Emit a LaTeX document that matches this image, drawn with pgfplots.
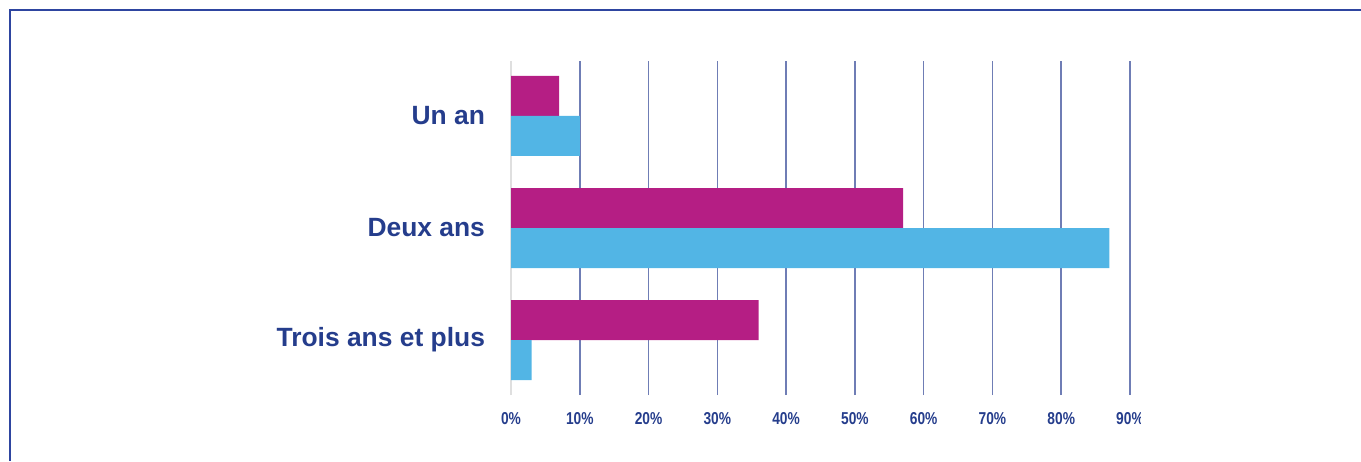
\documentclass[border=0pt]{standalone}
\usepackage{fontspec}
\setmainfont{Liberation Sans}
\newfontfamily\condfont[FakeStretch=0.8]{Liberation Sans}
\usepackage{pgfplots}
\pgfplotsset{compat=1.18}
\definecolor{mag}{HTML}{B51E84}
\definecolor{sky}{HTML}{52B5E5}
\definecolor{navy}{HTML}{253D8C}
\definecolor{frame}{HTML}{2E45A0}
\definecolor{gridc}{HTML}{6F7DB5}
\begin{document}
\begin{tikzpicture}
\useasboundingbox (0,0) rectangle (680.5pt,-230.5pt);
\draw[frame, line width=0.75pt] (5pt,-230.5pt) -- (5pt,-5pt) -- (680.5pt,-5pt);
\begin{axis}[
  at={(255.5pt,-197.5pt)}, anchor=south west,
  scale only axis, width=309.5pt, height=167pt,
  xbar, bar width=20pt,
  xmin=0, xmax=90, ymin=-0.49, ymax=2.49,
  axis line style={draw=none},
  xtick={10,20,30,40,50,60,70,80,90},
  xticklabels={10\%,20\%,30\%,40\%,50\%,60\%,70\%,80\%,90\%},
  extra x ticks={0}, extra x tick labels={0\%},
  extra x tick style={major grid style={gray!25, line width=0.75pt}},
  xmajorgrids, major grid style={gridc, line width=0.75pt},
  major tick length=0pt,
  xticklabel style={font=\condfont\bfseries\fontsize{8.6}{10}\selectfont, text=navy, yshift=-5pt},
  ytick={0,1,2},
  yticklabels={Trois ans et plus, Deux ans, Un an},
  yticklabel style={font=\bfseries\fontsize{13.2}{15}\selectfont, text=navy, xshift=-9.5pt},
  clip=false,
]
\addplot[fill=mag, draw=none, bar shift=10pt] coordinates {(36,0) (57,1) (7,2)};
\addplot[fill=sky, draw=none, bar shift=-10pt] coordinates {(3,0) (87,1) (10,2)};
\end{axis}
\fill[white] (570.5pt,-200pt) rectangle (585pt,-220pt);
\end{tikzpicture}
\end{document}
